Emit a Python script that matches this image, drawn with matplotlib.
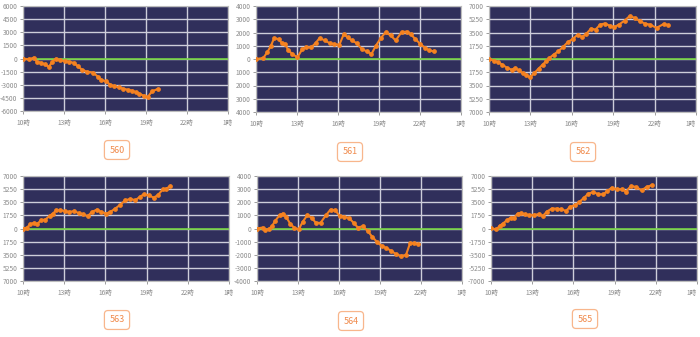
import numpy as np
import matplotlib
matplotlib.use('Agg')
import matplotlib.pyplot as plt

plt.rcParams['font.family'] = ['Noto Sans CJK JP', 'DejaVu Sans']

# machine numbers
names = ['560', '561', '562', '563', '564', '565']

# hours (10 = 10時, 25 = 翌1時)
t560 = [10.0, 10.44, 10.78, 11.02, 11.34, 11.58, 11.9, 12.14, 12.38, 12.68, 13.04, 13.4, 13.7, 14.0, 14.33, 14.67,
        15.11, 15.47, 15.72, 16.08, 16.4, 16.69, 17.06, 17.35, 17.66, 17.98, 18.27, 18.52, 18.83, 19.12, 19.44, 19.85]
v560 = [0, -100, 100, -375, -490, -675, -940, -375, -40, -190, -300, -375, -490, -860, -1300, -1500,
        -1600, -2060, -2440, -2625, -3000, -3190, -3300, -3450, -3560, -3675, -3860, -4050, -4240, -4425, -3750, -3490]

t561 = [10.0, 10.53, 10.82, 11.07, 11.33, 11.65, 11.89, 12.13, 12.37, 12.66, 13.03, 13.39, 13.68, 14.04, 14.36, 14.65,
        15.04, 15.38, 15.69, 16.1, 16.42, 16.71, 17.02, 17.36, 17.75, 18.11, 18.45, 18.77, 19.13, 19.49, 19.85, 20.22,
        20.65, 21.02, 21.31, 21.67, 22.03, 22.39, 22.69, 23.0]
v561 = [0, 75, 500, 950, 1575, 1500, 1200, 1125, 650, 375, 125, 750, 875, 875, 1200, 1575,
        1400, 1200, 1125, 1075, 1875, 1625, 1400, 1200, 750, 575, 375, 1000, 1575, 2025, 1775, 1400,
        2025, 2075, 1875, 1500, 1125, 825, 650, 575]

t562 = [10.0, 10.36, 10.68, 10.97, 11.33, 11.65, 11.89, 12.18, 12.43, 12.67, 12.96, 13.28, 13.59, 13.88, 14.13, 14.37,
        14.68, 15.02, 15.34, 15.7, 16.07, 16.43, 16.75, 17.04, 17.4, 17.72, 18.06, 18.37, 18.74, 19.05, 19.42, 19.83,
        20.19, 20.56, 20.92, 21.29, 21.65, 22.14, 22.67, 22.99]
v562 = [0, -220, -440, -750, -1190, -1415, -1190, -1500, -1860, -2080, -2430, -1860, -1280, -750, -310, 130,
        575, 1020, 1550, 2210, 2650, 3230, 2920, 3315, 4020, 3890, 4550, 4685, 4420, 4200, 4550, 5080,
        5660, 5440, 5000, 4685, 4550, 4110, 4640, 4460]

t563 = [10.0, 10.29, 10.53, 10.78, 11.02, 11.31, 11.63, 11.94, 12.18, 12.43, 12.72, 13.08, 13.33, 13.69, 14.05, 14.37,
        14.71, 15.02, 15.39, 15.68, 16.07, 16.36, 16.72, 17.09, 17.45, 17.82, 18.18, 18.5, 18.79, 19.15, 19.51, 19.81,
        20.19, 20.44, 20.73]
v563 = [0, 130, 575, 750, 575, 1100, 1200, 1680, 2000, 2440, 2440, 2300, 2215, 2300, 2080, 1900,
        1640, 2215, 2525, 2215, 2000, 2215, 2660, 3190, 3765, 3940, 3765, 4210, 4560, 4430, 4120, 4430,
        5230, 5315, 5670]

t564 = [10.0, 10.41, 10.61, 10.85, 11.09, 11.33, 11.65, 11.89, 12.13, 12.42, 12.71, 13.05, 13.34, 13.68, 14.0, 14.31,
        14.65, 15.04, 15.38, 15.74, 16.05, 16.37, 16.73, 17.07, 17.38, 17.75, 18.11, 18.43, 18.77, 19.13, 19.44, 19.81,
        20.17, 20.53, 20.9, 21.21, 21.5, 21.79]
v564 = [0, 75, -125, -50, 175, 580, 1010, 1140, 885, 380, 75, -75, 505, 1010, 810, 430,
        430, 1010, 1440, 1390, 935, 885, 810, 430, 75, 175, -200, -630, -1010, -1340, -1470, -1700,
        -1950, -2100, -2020, -1090, -1140, -1190]

t565 = [10.0, 10.39, 10.63, 10.87, 11.16, 11.45, 11.69, 11.94, 12.18, 12.45, 12.74, 13.1, 13.46, 13.78, 14.07, 14.43,
        14.79, 15.08, 15.47, 15.76, 16.13, 16.44, 16.78, 17.09, 17.46, 17.82, 18.18, 18.47, 18.79, 19.15, 19.52, 19.83,
        20.19, 20.56, 20.97, 21.33, 21.69]
v565 = [40, -130, 355, 665, 1110, 1460, 1460, 1990, 2040, 1900, 1815, 1815, 1900, 1680, 2260, 2660,
        2660, 2570, 2350, 2920, 3100, 3545, 4120, 4650, 4870, 4560, 4560, 5000, 5450, 5230, 5230, 4920,
        5670, 5540, 5095, 5540, 5760]

times = [t560, t561, t562, t563, t564, t565]
values = [v560, v561, v562, v563, v564, v565]
ylims = [6000, 4000, 7000, 7000, 4000, 7000]
ysteps = [1500, 1000, 1750, 1750, 1000, 1750]
# the minus sign is cut off on some panels in the original
show_minus = [True, False, False, False, True, True]

xticks = [10, 13, 16, 19, 22, 25]
xlabels = ['10時', '13時', '16時', '19時', '22時', '1時']

# axes rectangles in pixels: left, right, top, bottom
boxes = [(23, 228, 6, 111), (256, 461, 6, 112), (489, 696, 6, 112),
         (23, 229, 176, 281), (257, 462, 176, 281), (491, 697, 176, 281)]
label_pos = [(117, 150), (350, 152), (583, 152), (117, 320), (351, 321), (585, 319)]

W, H = 700, 337
fig = plt.figure(figsize=(7, 3.37), dpi=100)

for i in range(6):
    l, r, tp, b = boxes[i]
    ax = fig.add_axes([l / W, 1 - b / H, (r - l) / W, (b - tp) / H])
    ax.set_facecolor('#302F5B')
    lim = ylims[i]
    ticks = np.arange(-lim, lim + 1, ysteps[i])
    ax.set_ylim(-lim, lim)
    ax.set_xlim(10, 25)
    ax.set_yticks(ticks)
    if show_minus[i]:
        ax.set_yticklabels([f'{int(v)}' for v in ticks])
    else:
        ax.set_yticklabels([f'{abs(int(v))}' for v in ticks])
    ax.set_xticks(xticks)
    ax.set_xticklabels(xlabels)
    ax.grid(True, color='#CDCDDA', linewidth=1.0)
    ax.set_axisbelow(True)
    ax.tick_params(labelsize=4.8, colors='#8C8C8C', length=2.5, width=0.6, pad=1.5)
    ax.tick_params(axis='x', pad=3)
    if r > 690:
        ax.get_xticklabels()[-1].set_ha('right')
    for s in ax.spines.values():
        s.set_color('#BDBDBD')
        s.set_linewidth(0.8)
    ax.axhline(0, color='#72D13F', linewidth=1.2, zorder=3)
    ax.plot(times[i], values[i], color='#F58220', linewidth=1.5, marker='o',
            markersize=2.4, zorder=4)

    x, y = label_pos[i]
    fig.text(x / W, 1 - y / H, names[i], ha='center', va='center', fontsize=6.5,
             color='#F08A4B',
             bbox=dict(boxstyle='round,pad=0.55,rounding_size=0.4', fc='white',
                       ec='#F8B68C', lw=0.9))

plt.savefig('out.png', dpi=100)
plt.close()
